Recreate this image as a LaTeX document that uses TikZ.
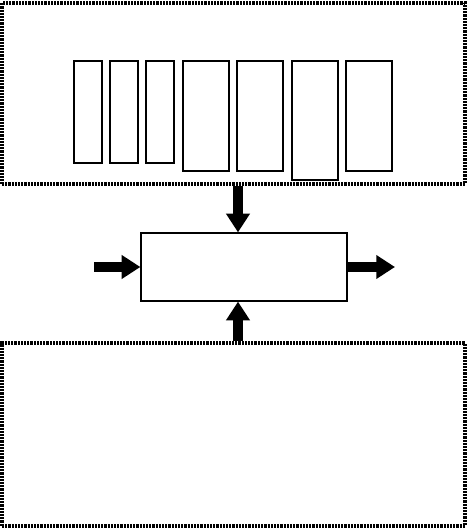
\documentclass[tikz,border=0pt]{standalone}
\usetikzlibrary{fit,arrows.meta}
\tikzset{dotframe/.style={draw,line width=2.4pt,dash pattern=on 1.6pt off 0.8pt,inner sep=0pt},
	bar/.style={draw,line width=0.9pt,inner sep=0pt},
	block/.style={draw,line width=0.9pt,inner sep=0pt},
	fat arrow/.style={line width=7.5pt,-{Triangle[width=17pt,length=14pt]}},
}

\begin{document}
\begin{tikzpicture}[x=0.75pt,y=-0.75pt]
	\useasboundingbox (0,0) rectangle (467,528);
	\node[dotframe,fit={(2,3) (465,184)}] (top){};
	\node[dotframe,fit={(2,343) (465,526)}] (bottom){};
	\node[block,fit={(141,233) (347,301)}] (mid){};
	
	\foreach \i/\l/\r/\b in {1/74/102/163,2/110/138/163,3/146/174/163,
		4/183/229/171,5/237/283/171,6/292/338/180,7/346/392/171}
		\node[bar,fit={(\l,61) (\r,\b)}] (bar\i){};
	
	\coordinate (axis) at (238,0);
	\coordinate (in) at (94,267);
	\coordinate (out) at (395,267);
	
	\draw[fat arrow] (top.south -| axis) -- (mid.north -| axis);
	\draw[fat arrow] (bottom.north -| axis) -- (mid.south -| axis);
	\draw[fat arrow] (in) -- (mid.west);
	\draw[fat arrow] (mid.east) -- (out);
\end{tikzpicture}
\end{document}
